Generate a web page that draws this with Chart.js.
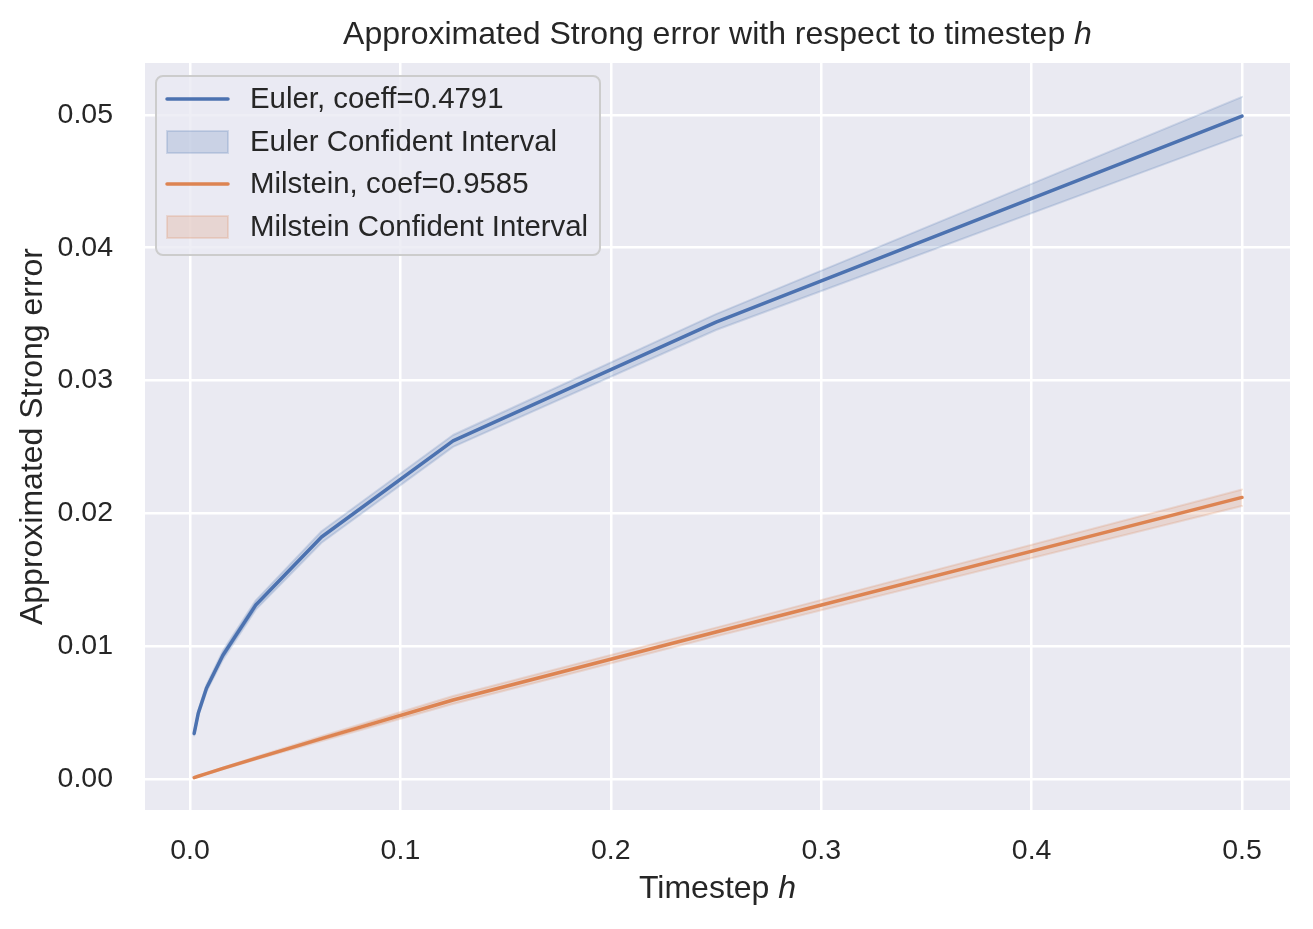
<!DOCTYPE html>
<html>
<head>
<meta charset="utf-8">
<script src="https://cdn.jsdelivr.net/npm/chart.js@4/dist/chart.umd.min.js"></script>
<style>
  body { margin: 0; background: #ffffff; }
  canvas { display: block; }
</style>
</head>
<body>
<canvas id="errorChart" width="1313" height="929"></canvas>
<script>
// timesteps h = 0.5 / 2^k
const timesteps = [0.001953125, 0.00390625, 0.0078125, 0.015625, 0.03125, 0.0625, 0.125, 0.25, 0.5];

const eulerMean  = [0.00343, 0.00495, 0.00683, 0.00932, 0.01310, 0.01822, 0.02545, 0.03440, 0.04990];
const eulerUpper = [0.00358, 0.00515, 0.00708, 0.00965, 0.01345, 0.01865, 0.02590, 0.03500, 0.05135];
const eulerLower = [0.00328, 0.00475, 0.00658, 0.00899, 0.01275, 0.01779, 0.02500, 0.03380, 0.04845];

const milsteinMean  = [0.00011, 0.00021, 0.00041, 0.00080, 0.00156, 0.00304, 0.00595, 0.01107, 0.02120];
const milsteinUpper = [0.00012, 0.00023, 0.00044, 0.00086, 0.00166, 0.00322, 0.00625, 0.01140, 0.02180];
const milsteinLower = [0.00010, 0.00019, 0.00038, 0.00074, 0.00146, 0.00286, 0.00565, 0.01074, 0.02055];

const xTicks = [0.0, 0.1, 0.2, 0.3, 0.4, 0.5];
const yTicks = [0.00, 0.01, 0.02, 0.03, 0.04, 0.05];

const legendLabels = ['Euler, coeff=0.4791', 'Euler Confident Interval', 'Milstein, coef=0.9585', 'Milstein Confident Interval'];

const BLUE = '#4c72b0';
const ORANGE = '#dd8452';
const BLUE_BAND = 'rgba(76, 114, 176, 0.2)';
const ORANGE_BAND = 'rgba(221, 132, 82, 0.2)';
const TEXT = '#262626';
const FONT = "'Liberation Sans', Arial, sans-serif";

function points(ys) {
    return timesteps.map((h, i) => ({ x: h, y: ys[i] }));
}

// draw text made of normal and italic pieces, centred on x
function drawMixed(ctx, parts, x, y, size) {
    let total = 0;
    parts.forEach(p => {
        ctx.font = (p.italic ? 'italic ' : '') + size + 'px ' + FONT;
        p.w = ctx.measureText(p.text).width;
        total += p.w;
    });
    let cx = x - total / 2;
    parts.forEach(p => {
        ctx.font = (p.italic ? 'italic ' : '') + size + 'px ' + FONT;
        ctx.fillText(p.text, cx, y);
        cx += p.w;
    });
}

const backgroundPlugin = {
    id: 'background',
    beforeDraw(chart) {
        const { ctx, chartArea } = chart;
        ctx.save();
        ctx.fillStyle = '#eaeaf2';
        ctx.fillRect(chartArea.left, chartArea.top, chartArea.right - chartArea.left, chartArea.bottom - chartArea.top);
        ctx.restore();
    }
};

const textPlugin = {
    id: 'texts',
    afterDraw(chart) {
        const { ctx, chartArea } = chart;
        const mid = (chartArea.left + chartArea.right) / 2;
        ctx.save();
        ctx.fillStyle = TEXT;
        ctx.textAlign = 'left';
        ctx.textBaseline = 'middle';
        drawMixed(ctx, [{ text: 'Approximated Strong error with respect to timestep ' }, { text: 'h', italic: true }], mid, 35, 32);
        drawMixed(ctx, [{ text: 'Timestep ' }, { text: 'h', italic: true }], mid, 889, 32);
        ctx.translate(33, (chartArea.top + chartArea.bottom) / 2);
        ctx.rotate(-Math.PI / 2);
        drawMixed(ctx, [{ text: 'Approximated Strong error' }], 0, 0, 32);
        ctx.restore();
    }
};

const legendPlugin = {
    id: 'boxLegend',
    afterDraw(chart) {
        const ctx = chart.ctx;
        const x0 = 156, y0 = 76, w = 444, h = 179, r = 7;
        ctx.save();
        ctx.beginPath();
        ctx.roundRect(x0, y0, w, h, r);
        ctx.fillStyle = 'rgba(234, 234, 242, 0.8)';
        ctx.fill();
        ctx.strokeStyle = '#cccccc';
        ctx.lineWidth = 2;
        ctx.stroke();

        const rows = [99, 142, 184, 227];
        const kinds = [
            { line: BLUE }, { band: BLUE_BAND },
            { line: ORANGE }, { band: ORANGE_BAND }
        ];
        kinds.forEach((k, i) => {
            const y = rows[i];
            if (k.line) {
                ctx.beginPath();
                ctx.moveTo(167, y);
                ctx.lineTo(228, y);
                ctx.strokeStyle = k.line;
                ctx.lineWidth = 3.5;
                ctx.lineCap = 'round';
                ctx.stroke();
            } else {
                ctx.fillStyle = k.band;
                ctx.fillRect(167, y - 11, 61, 22);
                ctx.strokeStyle = k.band;
                ctx.lineWidth = 2;
                ctx.strokeRect(167, y - 11, 61, 22);
            }
            ctx.fillStyle = TEXT;
            ctx.font = '29.4px ' + FONT;
            ctx.textAlign = 'left';
            ctx.textBaseline = 'middle';
            ctx.fillText(legendLabels[i], 250, y + 1);
        });
        ctx.restore();
    }
};

const lineStyle = { pointRadius: 0, tension: 0, borderWidth: 3.5, borderCapStyle: 'round', borderJoinStyle: 'round' };

new Chart(document.getElementById('errorChart'), {
    type: 'line',
    data: {
        datasets: [
            { ...lineStyle, label: legendLabels[0], data: points(eulerMean), borderColor: BLUE, fill: false },
            { ...lineStyle, label: legendLabels[2], data: points(milsteinMean), borderColor: ORANGE, fill: false },
            { ...lineStyle, label: 'euler upper', data: points(eulerUpper), borderColor: BLUE_BAND, borderWidth: 2, fill: 3, backgroundColor: BLUE_BAND },
            { ...lineStyle, label: 'euler lower', data: points(eulerLower), borderColor: BLUE_BAND, borderWidth: 2, fill: false },
            { ...lineStyle, label: 'milstein upper', data: points(milsteinUpper), borderColor: ORANGE_BAND, borderWidth: 2, fill: 5, backgroundColor: ORANGE_BAND },
            { ...lineStyle, label: 'milstein lower', data: points(milsteinLower), borderColor: ORANGE_BAND, borderWidth: 2, fill: false }
        ]
    },
    options: {
        responsive: false,
        animation: false,
        devicePixelRatio: 1,
        layout: { padding: { top: 63, right: 23, left: 0, bottom: 0 } },
        plugins: {
            legend: { display: false },
            title: { display: false },
            tooltip: { enabled: false }
        },
        scales: {
            x: {
                type: 'linear',
                min: -0.0214,
                max: 0.5228,
                afterBuildTicks: scale => { scale.ticks = xTicks.map(v => ({ value: v })); },
                afterFit: scale => { scale.height = 119; },
                grid: { color: '#ffffff', lineWidth: 2.5, drawTicks: false },
                border: { display: false },
                ticks: {
                    padding: 24,
                    color: TEXT,
                    font: { family: FONT, size: 28.5 },
                    maxRotation: 0,
                    callback: v => v.toFixed(1)
                }
            },
            y: {
                type: 'linear',
                min: -0.00233,
                max: 0.0539,
                afterBuildTicks: scale => { scale.ticks = yTicks.map(v => ({ value: v })); },
                afterFit: scale => { scale.width = 145; },
                grid: { color: '#ffffff', lineWidth: 2.5, drawTicks: false },
                border: { display: false },
                ticks: {
                    padding: 32,
                    color: TEXT,
                    font: { family: FONT, size: 28.5 },
                    callback: v => v.toFixed(2)
                }
            }
        }
    },
    plugins: [backgroundPlugin, textPlugin, legendPlugin]
});
</script>
</body>
</html>
